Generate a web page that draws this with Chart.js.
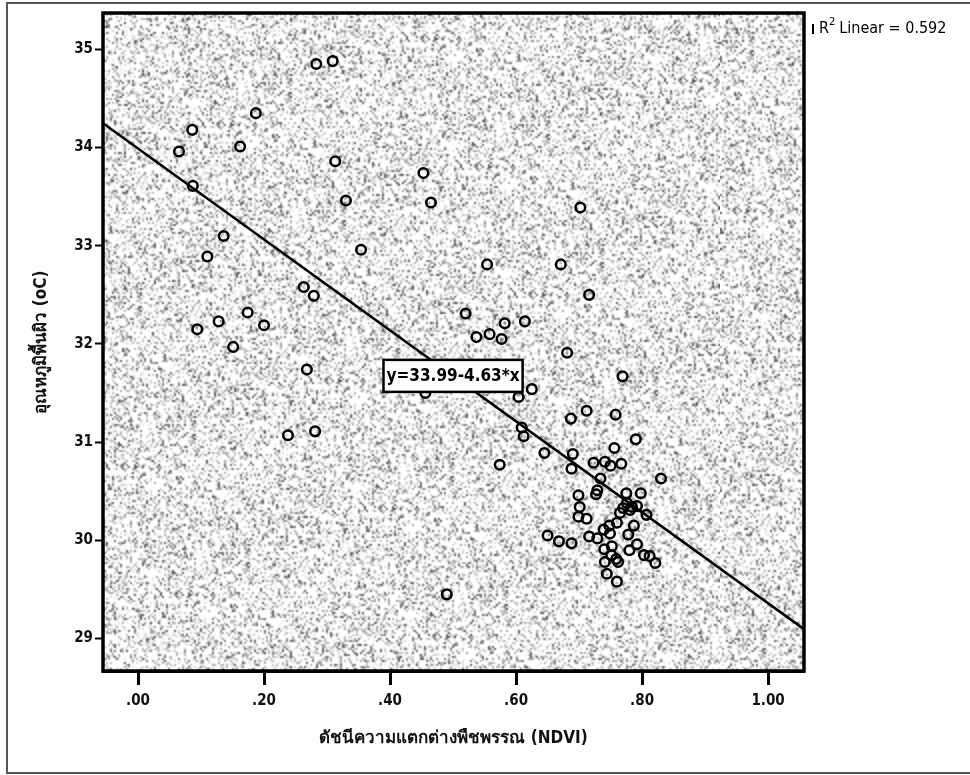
<!DOCTYPE html>
<html>
<head>
<meta charset="utf-8">
<script src="https://cdn.jsdelivr.net/npm/chart.js@4"></script>
<style>
  body { margin: 0; background: #fff; }
  canvas { display: block; }
</style>
</head>
<body>
<canvas id="scatter-chart" width="970" height="775"></canvas>
<script>
// NDVI vs land surface temperature
const ndvi = [
  0.283, 0.309, 0.187, 0.086, 0.162, 0.065, 0.313, 0.453, 0.087, 0.330,
  0.465, 0.702, 0.136, 0.354, 0.110, 0.554, 0.671, 0.263, 0.279, 0.716,
  0.174, 0.520, 0.128, 0.614, 0.582, 0.200, 0.094, 0.558, 0.537, 0.577,
  0.151, 0.681, 0.268, 0.769, 0.625, 0.456, 0.604, 0.712, 0.758, 0.687,
  0.609, 0.281, 0.238, 0.612, 0.790, 0.756, 0.645, 0.690, 0.741, 0.723,
  0.767, 0.574, 0.750, 0.688, 0.830, 0.734, 0.729, 0.775, 0.798, 0.727,
  0.699, 0.792, 0.701, 0.784, 0.770, 0.781, 0.776, 0.765, 0.807, 0.699,
  0.712, 0.760, 0.748, 0.787, 0.739, 0.749, 0.778, 0.650, 0.716, 0.729,
  0.668, 0.688, 0.792, 0.752, 0.740, 0.780, 0.751, 0.803, 0.812, 0.759,
  0.741, 0.762, 0.821, 0.744, 0.760, 0.490
];
const surfaceTemp = [
  34.85, 34.88, 34.35, 34.18, 34.01, 33.96, 33.86, 33.74, 33.61, 33.46,
  33.44, 33.39, 33.10, 32.96, 32.89, 32.81, 32.81, 32.58, 32.49, 32.50,
  32.32, 32.31, 32.23, 32.23, 32.21, 32.19, 32.15, 32.10, 32.07, 32.05,
  31.97, 31.91, 31.74, 31.67, 31.54, 31.50, 31.46, 31.32, 31.28, 31.24,
  31.15, 31.11, 31.07, 31.06, 31.03, 30.94, 30.89, 30.88, 30.80, 30.79,
  30.78, 30.77, 30.76, 30.73, 30.63, 30.63, 30.51, 30.48, 30.48, 30.47,
  30.46, 30.35, 30.34, 30.34, 30.33, 30.31, 30.38, 30.28, 30.26, 30.24,
  30.22, 30.18, 30.15, 30.15, 30.11, 30.07, 30.06, 30.05, 30.04, 30.02,
  29.99, 29.97, 29.96, 29.94, 29.91, 29.90, 29.85, 29.85, 29.84, 29.81,
  29.78, 29.78, 29.77, 29.66, 29.58, 29.45
];
const xTicks = [0, 0.2, 0.4, 0.6, 0.8, 1.0];
const yTicks = [29, 30, 31, 32, 33, 34, 35];
const fitIntercept = 33.99;
const fitSlope = -4.63;
const rSquared = 0.592;

const xMin = -0.0556, xMax = 1.057;
const yMin = 28.67, yMax = 35.37;
const fitLine = [xMin, xMax].map(x => ({ x: x, y: fitIntercept + fitSlope * x }));

const FONT = "Tahoma, 'DejaVu Sans Condensed', 'Liberation Sans', sans-serif";

// speckled grey fill like the scanned SPSS plot background (seeded, not data)
function makeSpeckle() {
  const n = 360;
  const small = document.createElement("canvas");
  small.width = n; small.height = n;
  const g = small.getContext("2d");
  const img = g.createImageData(n, n);
  let s = 4242;
  const rnd = () => { s = (s * 1103515245 + 12345) & 0x7fffffff; return s / 0x7fffffff; };
  for (let i = 0; i < n * n; i++) {
    let v = 255;
    const r = rnd();
    if (r < 0.07) v = 70 + rnd() * 60;
    else if (r < 0.27) v = 150 + rnd() * 60;
    else if (r < 0.35) v = 215 + rnd() * 25;
    img.data[i * 4] = v; img.data[i * 4 + 1] = v; img.data[i * 4 + 2] = v; img.data[i * 4 + 3] = 255;
  }
  g.putImageData(img, 0, 0);
  const big = document.createElement("canvas");
  big.width = n * 2; big.height = n * 2;
  const bg = big.getContext("2d");
  bg.imageSmoothingEnabled = true;
  bg.drawImage(small, 0, 0, n * 2, n * 2);
  return big;
}
const speckle = makeSpeckle();

const decorations = {
  id: "decorations",
  beforeDatasetsDraw(chart) {
    const { ctx, chartArea: a } = chart;
    ctx.save();
    ctx.fillStyle = ctx.createPattern(speckle, "repeat");
    ctx.fillRect(a.left, a.top, a.right - a.left, a.bottom - a.top);
    ctx.restore();
  },
  afterDatasetsDraw(chart) {
    const { ctx, chartArea: a, scales } = chart;
    ctx.save();
    // plot frame
    ctx.strokeStyle = "#000";
    ctx.lineWidth = 3.5;
    ctx.strokeRect(a.left, a.top, a.right - a.left, a.bottom - a.top);

    // equation label on the fit line
    const ex = 0.5;
    const cx = scales.x.getPixelForValue(ex);
    const cy = scales.y.getPixelForValue(fitIntercept + fitSlope * ex);
    const label = "y=" + fitIntercept.toFixed(2) + (fitSlope < 0 ? "-" : "+") + Math.abs(fitSlope).toFixed(2) + "*x";
    ctx.font = "bold 17px " + FONT;
    const w = ctx.measureText(label).width + 6;
    ctx.fillStyle = "#fff";
    ctx.fillRect(cx - w / 2, cy - 16, w, 32);
    ctx.strokeStyle = "#000";
    ctx.lineWidth = 2.5;
    ctx.strokeRect(cx - w / 2, cy - 16, w, 32);
    ctx.fillStyle = "#000";
    ctx.textAlign = "center";
    ctx.textBaseline = "middle";
    ctx.fillText(label, cx, cy + 1);

    // R² note
    ctx.textAlign = "left";
    ctx.font = "16px " + FONT;
    let x = a.right + 15;
    const y = 29;
    ctx.fillText("R", x, y);
    x += ctx.measureText("R").width;
    ctx.font = "11px " + FONT;
    ctx.fillText("2", x, y - 7);
    x += ctx.measureText("2").width + 4;
    ctx.font = "16px " + FONT;
    ctx.fillText("Linear = " + rSquared.toFixed(3), x, y);
    ctx.fillRect(a.right + 8, y - 5, 2, 10);

    // page frame
    ctx.strokeStyle = "#555";
    ctx.lineWidth = 2;
    ctx.beginPath();
    ctx.moveTo(970, 3); ctx.lineTo(7, 3); ctx.lineTo(7, 773); ctx.lineTo(970, 773);
    ctx.stroke();
    ctx.restore();
  }
};

new Chart(document.getElementById("scatter-chart").getContext("2d"), {
  type: "scatter",
  data: {
    datasets: [
      {
        label: "LST",
        data: ndvi.map((v, i) => ({ x: v, y: surfaceTemp[i] })),
        pointStyle: "circle",
        pointRadius: 4.8,
        pointHoverRadius: 4.8,
        borderWidth: 2.5,
        borderColor: "#000",
        backgroundColor: "rgba(0,0,0,0)",
      },
      {
        type: "line",
        label: "Linear",
        data: fitLine,
        borderColor: "#000",
        borderWidth: 2.5,
        pointRadius: 0,
        fill: false,
      },
    ],
  },
  options: {
    responsive: false,
    animation: false,
    layout: { padding: { left: 7, top: 13, right: 166, bottom: 0 } },
    plugins: { legend: { display: false }, tooltip: { enabled: false } },
    scales: {
      x: {
        type: "linear",
        min: xMin,
        max: xMax,
        afterBuildTicks: (scale) => { scale.ticks = xTicks.map(v => ({ value: v })); },
        afterFit: (scale) => { scale.height = 104; },
        grid: { drawOnChartArea: false, drawTicks: true, tickLength: 14, tickWidth: 3, tickColor: "#000" },
        border: { display: true, color: "#000", width: 3 },
        ticks: {
          color: "#111",
          padding: 7,
          maxRotation: 0,
          font: { family: FONT, size: 15, weight: "bold" },
          callback: (v) => (v >= 1 ? v.toFixed(2) : v.toFixed(2).replace(/^0/, "")),
        },
        title: {
          display: true,
          text: "ดัชนีความแตกต่างพืชพรรณ (NDVI)",
          color: "#111",
          font: { family: FONT, size: 17, weight: "bold" },
          padding: { top: 10, bottom: 26 },
        },
      },
      y: {
        type: "linear",
        min: yMin,
        max: yMax,
        afterBuildTicks: (scale) => { scale.ticks = yTicks.map(v => ({ value: v })); },
        afterFit: (scale) => { scale.width = 96; },
        grid: { drawOnChartArea: false, drawTicks: true, tickLength: 8, tickWidth: 2, tickColor: "#000" },
        border: { display: true, color: "#000", width: 3 },
        ticks: {
          color: "#111",
          padding: 2,
          font: { family: FONT, size: 15, weight: "bold" },
        },
        title: {
          display: true,
          text: "อุณหภูมิพื้นผิว (oC)",
          color: "#111",
          font: { family: FONT, size: 17, weight: "bold" },
          padding: { bottom: 0, top: 24 },
        },
      },
    },
  },
  plugins: [decorations],
});
</script>
</body>
</html>
